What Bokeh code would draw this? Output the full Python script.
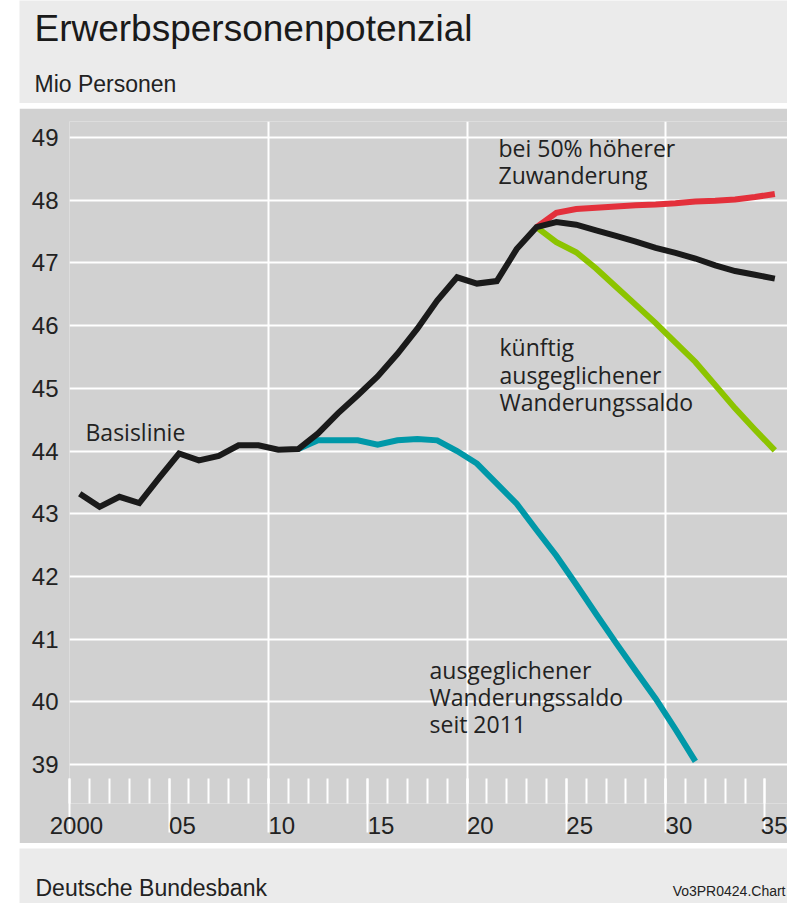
from bokeh.plotting import figure
from bokeh.models import FixedTicker, Label, Range1d, LinearAxis, Grid, Spacer
from bokeh.layouts import row, column
from bokeh.embed import file_html
from bokeh.resources import INLINE

# ---------------- data ----------------
years_basis = list(range(2000, 2036))
basis = [43.32, 43.11, 43.27, 43.17, 43.57, 43.96, 43.85, 43.92, 44.09, 44.09, 44.02, 44.03,
         44.28, 44.60, 44.89, 45.19, 45.55, 45.95, 46.40, 46.77, 46.67, 46.71, 47.22, 47.57,
         47.65, 47.61, 47.52, 47.43, 47.34, 47.24, 47.16, 47.07, 46.96, 46.87, 46.81, 46.75]

years_saldo2011 = list(range(2011, 2032))
saldo2011 = [44.03, 44.17, 44.17, 44.17, 44.10, 44.17, 44.19, 44.17, 44.00, 43.80, 43.48,
             43.16, 42.74, 42.33, 41.87, 41.40, 40.94, 40.49, 40.05, 39.56, 39.05]

years_scen = list(range(2023, 2036))
hoeher = [47.57, 47.80, 47.86, 47.88, 47.90, 47.92, 47.93, 47.95, 47.98, 47.99, 48.01, 48.05, 48.10]
kuenftig = [47.57, 47.33, 47.17, 46.91, 46.62, 46.33, 46.04, 45.73, 45.42, 45.05, 44.68, 44.34, 44.01]

x_tick_years = [2000, 2005, 2010, 2015, 2020, 2025, 2030, 2035]
x_tick_labels = ["2000", "05", "10", "15", "20", "25", "30", "35"]
x_minor_years = list(range(2000, 2036))
x_grid_years = [2010, 2020, 2030]
y_ticks = [39, 40, 41, 42, 43, 44, 45, 46, 47, 48, 49]

# ---------------- styling / geometry ----------------
GREY = "#d1d1d1"
LIGHT = "#ebebeb"
TXT = "#222222"
PX_PER_YEAR = 19.86
PX_PER_UNIT = 62.7
TICK_FONT = "Liberation Sans"
TXT_FONT = "Liberation Sans"
OS = "Open Sans"
NOTE_SIZE = 23


def dx(page_x):
    return 2000 + (page_x - 69.3) / PX_PER_YEAR


def dy(page_y):
    return 49 - (page_y - 137) / PX_PER_UNIT


def mid(ys):
    return [y + 0.5 for y in ys]


# ---------------- main chart (page x 19..787, y 108..843) ----------------
p = figure(width=768, height=735, output_backend="svg", toolbar_location=None,
           x_range=Range1d(dx(69), dx(787)), y_range=Range1d(dy(803), dy(121)),
           min_border_left=50, min_border_right=0, min_border_top=13, min_border_bottom=40,
           x_axis_type=None, y_axis_type=None, frame_align=False,
           background_fill_color=GREY, border_fill_color=GREY, outline_line_color=None)

pad = {4: "\u00a0" * 2, 2: "\u00a0" * 4}
xaxis = LinearAxis(ticker=FixedTicker(ticks=x_tick_years, minor_ticks=x_minor_years),
                   major_label_overrides={y: pad[len(l)] + l for y, l in zip(x_tick_years, x_tick_labels)},
                   axis_line_color=None,
                   major_tick_line_color="white", major_tick_line_width=2,
                   major_tick_in=25, major_tick_out=29,
                   minor_tick_line_color="white", minor_tick_line_width=2,
                   minor_tick_in=25, minor_tick_out=0,
                   major_label_standoff=-21,
                   major_label_text_font=TICK_FONT,
                   major_label_text_font_size="24px", major_label_text_color=TXT)
p.add_layout(xaxis, "below")

yaxis = LinearAxis(ticker=FixedTicker(ticks=y_ticks), axis_line_color=None,
                   major_tick_line_color=None, minor_tick_line_color=None,
                   major_tick_in=0, major_tick_out=0, minor_tick_in=0, minor_tick_out=0,
                   major_label_standoff=11,
                   major_label_text_font=TICK_FONT,
                   major_label_text_font_size="24px", major_label_text_color=TXT)
p.add_layout(yaxis, "left")

p.add_layout(Grid(dimension=1, ticker=FixedTicker(ticks=y_ticks),
                  grid_line_color="white", grid_line_width=2))
p.add_layout(Grid(dimension=0, ticker=FixedTicker(ticks=x_grid_years),
                  grid_line_color="white", grid_line_width=2))

LW = 6
p.line(mid(years_saldo2011), saldo2011, line_color="#0098a8", line_width=LW, line_join="miter")
p.line(mid(years_scen), kuenftig, line_color="#8cc400", line_width=LW, line_join="miter")
p.line(mid(years_scen), hoeher, line_color="#e3303b", line_width=LW, line_join="miter")
p.line(mid(years_basis), basis, line_color="#1a1a1a", line_width=LW, line_join="miter")

# (text, page x, page baseline y)
notes = [("Basislinie", 85, 440),
         ("bei 50% höherer", 498, 156), ("Zuwanderung", 498, 183),
         ("künftig", 499, 355), ("ausgeglichener", 499, 383), ("Wanderungssaldo", 499, 410),
         ("ausgeglichener", 429, 678), ("Wanderungssaldo", 429, 705), ("seit 2011", 429, 732)]
MID = 0.36 * NOTE_SIZE
# masks behind the notes (cut the grid lines like the original)
for t, px, py in notes:
    p.add_layout(Label(x=dx(px), y=dy(py - MID), text=t, text_font=OS,
                       text_font_size=f"{NOTE_SIZE}px", text_alpha=0,
                       text_baseline="middle", text_align="left",
                       background_fill_color=GREY, padding=3))
for t, px, py in notes:
    p.add_layout(Label(x=dx(px), y=dy(py - MID), text=t, text_font=OS,
                       text_font_size=f"{NOTE_SIZE}px", text_color=TXT,
                       text_baseline="middle", text_align="left"))


def header_label(fig, text, x, base, size, align="left", color=TXT):
    fig.add_layout(Label(x=x, y=base - 0.38 * size, text=text, text_font=TXT_FONT,
                         text_font_size=f"{size}px", text_color=color,
                         text_baseline="middle", text_align=align))


# ---------------- header (page y 0..103) ----------------
h = figure(width=768, height=103, output_backend="svg", toolbar_location=None,
           x_range=Range1d(0, 768), y_range=Range1d(103, 0), min_border=0, frame_align=False,
           x_axis_type=None, y_axis_type=None, background_fill_color=LIGHT,
           border_fill_color=LIGHT, outline_line_color=None)
h.xgrid.visible = False
h.ygrid.visible = False
header_label(h, "Erwerbspersonenpotenzial", 15, 42, 37, color="#1a1a1a")
header_label(h, "Mio Personen", 15, 92, 23)

# ---------------- footer (page y 848..903) ----------------
f = figure(width=768, height=55, output_backend="svg", toolbar_location=None,
           x_range=Range1d(0, 768), y_range=Range1d(55, 0), min_border=0, frame_align=False,
           x_axis_type=None, y_axis_type=None, background_fill_color=LIGHT,
           border_fill_color=LIGHT, outline_line_color=None)
f.xgrid.visible = False
f.ygrid.visible = False
header_label(f, "Deutsche Bundesbank", 16, 48, 23)
header_label(f, "Vo3PR0424.Chart", 766, 48, 14, align="right")

layout = row(Spacer(width=19, height=903), column(h, p, f, spacing=5))
open("out.html", "w").write(file_html(layout, INLINE))
